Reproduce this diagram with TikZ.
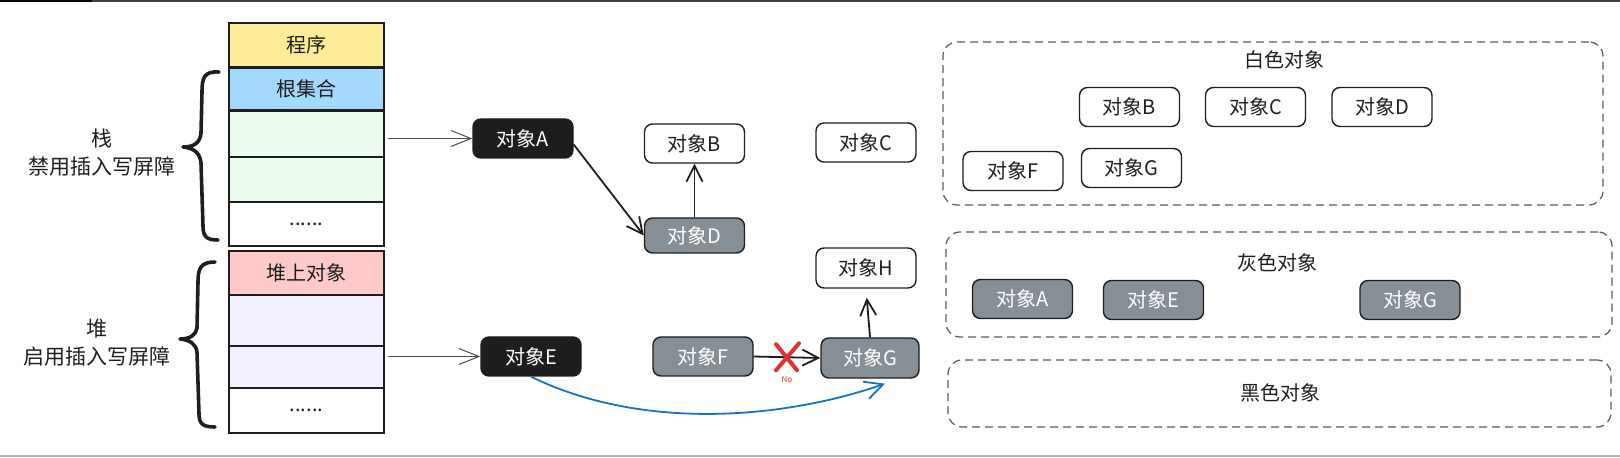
\documentclass[tikz,border=0pt]{standalone}
\usepackage{fontspec}
\setmainfont{Noto Sans CJK SC}
\usetikzlibrary{arrows.meta}

\definecolor{inkdark}{HTML}{1E1E1E}
\definecolor{progyellow}{HTML}{FFEC99}
\definecolor{rootblue}{HTML}{A5D8FF}
\definecolor{stackgreen}{HTML}{EBFBEE}
\definecolor{heappink}{HTML}{FFC9C9}
\definecolor{heappurple}{HTML}{F3F0FF}
\definecolor{objgray}{HTML}{868E96}
\definecolor{arrowblue}{HTML}{1971C2}
\definecolor{crossred}{HTML}{E03131}

\tikzset{
  cell/.style={draw=inkdark, line width=0.9pt, minimum width=77.5pt, inner sep=0pt, text=inkdark, font=\fontsize{10}{12}\selectfont},
  obj/.style={draw=inkdark, rounded corners=4pt, line width=0.7pt, minimum width=50pt, minimum height=19.5pt, inner sep=0pt, font=\fontsize{10}{12}\selectfont},
  whiteobj/.style={obj, fill=white, text=inkdark},
  grayobj/.style={obj, fill=objgray, text=white},
  blackobj/.style={obj, fill=inkdark, text=white},
  panel/.style={draw=black!65, dash pattern=on 4pt off 2.5pt, rounded corners=7pt, line width=0.6pt, inner sep=0pt},
  paneltitle/.style={text=inkdark, font=\fontsize{10}{12}\selectfont},
  sidelabel/.style={align=center, text=inkdark, font=\fontsize{10.5}{14}\selectfont},
  bracepath/.style={inkdark, line width=1.8pt, line cap=round, line join=round},
  thinarrow/.style={->, black!70, line width=0.5pt, >={Straight Barb[length=10pt, width=8pt]}},
  link/.style={->, inkdark, line width=0.9pt, >={Straight Barb[length=8pt, width=8pt]}},
  bluelink/.style={->, arrowblue, line width=0.9pt, >={Straight Barb[length=9pt, width=9pt]}},
  crossmark/.style={crossred, line width=2pt, line cap=round}
}

\begin{document}
\begin{tikzpicture}[x=0.5pt, y=-0.5pt]
  \useasboundingbox (0,0) rectangle (1620,458);
  % screen edges
  \draw[black!75, line width=1pt] (0,1) -- (1620,1);
  \draw[black, line width=1pt] (0,1) -- (92,1);
  \draw[black!30, line width=0.6pt] (0,456) -- (1620,456);

  % stack and heap column
  \node[cell, fill=progyellow, minimum height=22pt] (prog) at (306.5,45) {程序};
  \node[cell, fill=rootblue, minimum height=21pt] (roots) at (306.5,89) {根集合};
  \node[cell, fill=stackgreen, minimum height=23pt] (stk1) at (306.5,134) {};
  \node[cell, fill=stackgreen, minimum height=22.5pt] (stk2) at (306.5,179.5) {};
  \node[cell, fill=white, minimum height=22pt] (stk3) at (306.5,224) {......};
  \node[cell, fill=heappink, minimum height=22pt] (heapobj) at (306.5,273) {堆上对象};
  \node[cell, fill=heappurple, minimum height=25.5pt] (heap1) at (306.5,320.5) {};
  \node[cell, fill=heappurple, minimum height=21pt] (heap2) at (306.5,367) {};
  \node[cell, fill=white, minimum height=22.5pt] (heap3) at (306.5,410.5) {......};

  % braces and side labels
  \draw[bracepath] (219,72) .. controls (204,71) and (202,78) .. (202,92) -- (201,133)
    .. controls (200,143) and (194,147) .. (183,147) .. controls (194,148) and (200,153) .. (201,163)
    -- (203,226) .. controls (203,237) and (207,240) .. (218,240);
  \draw[bracepath] (215,262) .. controls (201,262) and (198,268) .. (198,282) -- (197,328)
    .. controls (196,335) and (190,339) .. (180,339) .. controls (190,340) and (196,344) .. (197,352)
    -- (199,414) .. controls (199,424) and (203,427) .. (215,427);
  \node[sidelabel] (stacklabel) at (102,152.5) {栈\\禁用插入写屏障};
  \node[sidelabel] (heaplabel) at (97,342.5) {堆\\启用插入写屏障};

  % object graph
  \node[blackobj] (objA) at (523,138.5) {对象A};
  \node[whiteobj] (objB) at (694.5,143.5) {对象B};
  \node[whiteobj] (objC) at (866,142.5) {对象C};
  \node[grayobj, minimum height=17.5pt] (objD) at (694.5,235.5) {对象D};
  \node[whiteobj, minimum height=20pt] (objH) at (866,268) {对象H};
  \node[blackobj] (objE) at (531,356.5) {对象E};
  \node[grayobj] (objF) at (703,356.5) {对象F};
  \node[grayobj, minimum width=49pt, minimum height=20pt] (objG) at (870,358) {对象G};

  \draw[thinarrow, shorten <=1.5pt] (stk1.east |- objA.west) -- (objA.west);
  \draw[thinarrow, shorten <=1.5pt] (heap2.east |- objE.west) -- (objE.west);
  \draw[link] ([yshift=-3pt]objA.east) -- (objD.west);
  \draw[link] (objD.north) -- (objB.south);
  \draw[link, shorten >=4.5pt] (objG.north) -- (objH.south);
  \draw[link] (objF.east) -- coordinate[pos=0.5] (cut) (objG.west);
  \draw[crossmark] ([shift={(-5.5pt,6.5pt)}]cut) -- ([shift={(5pt,-6.5pt)}]cut);
  \draw[crossmark] ([shift={(6pt,7pt)}]cut) -- ([shift={(-5.5pt,-6.5pt)}]cut);
  \node[text=crossred, font=\fontsize{4}{5}\selectfont] (nomark) at ([yshift=-11pt]cut) {No};
  \coordinate (bluetip) at ([xshift=7.5pt,yshift=-2.5pt]objG.south);
  \draw[bluelink] (objE.south) .. controls (640,430) and (780,420) .. (bluetip);

  % colour sets
  \node[panel, minimum width=330pt, minimum height=81.5pt] (whiteset) at (1273,123.5) {};
  \node[paneltitle] (whitetitle) at (1284,60) {白色对象};
  \node[whiteobj] (wB) at (1129.5,107) {对象B};
  \node[whiteobj] (wC) at (1255.5,107) {对象C};
  \node[whiteobj] (wD) at (1382,107) {对象D};
  \node[whiteobj] (wF) at (1013,171) {对象F};
  \node[whiteobj] (wG) at (1131.5,168) {对象G};

  \node[panel, minimum width=333pt, minimum height=52.5pt] (grayset) at (1279,284.5) {};
  \node[paneltitle] (graytitle) at (1277,263) {灰色对象};
  \node[grayobj] (gA) at (1022.5,299) {对象A};
  \node[grayobj] (gE) at (1153.5,300) {对象E};
  \node[grayobj] (gG) at (1410,300) {对象G};

  \node[panel, minimum width=331.5pt, minimum height=33.5pt] (blackset) at (1279.5,393.5) {};
  \node[paneltitle] (blacktitle) at (1280,393) {黑色对象};
\end{tikzpicture}
\end{document}
